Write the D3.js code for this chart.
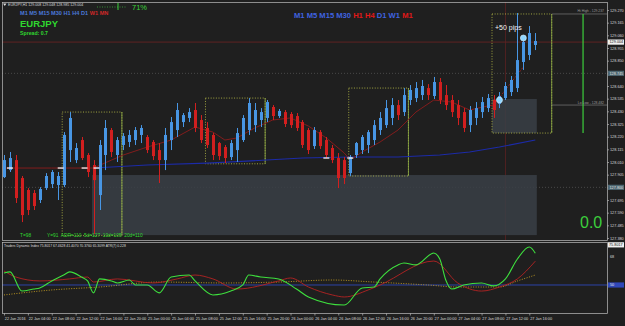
<!DOCTYPE html>
<meta charset="utf-8">
<style>
body { margin: 0; background: #1f1f1f; }
svg { display: block; font-family: "Liberation Sans", Arial, sans-serif; }
.axis text { fill: #d8d8d8; font-size: 3.8px; }
.axis path, .axis line { stroke: #cfcfcf; stroke-width: 0.6; }
</style>
<body>
<script src="https://cdn.jsdelivr.net/npm/d3@7"></script>
<script>

var width = 625,
    height = 326;

// hourly EURJPY bars, 22 Jan 00:00 .. 27 Jan 17:00
var opens = [127.885,127.943,128.026,127.877,127.778,127.753,127.695,127.794,127.827,127.819,
  127.819,128.109,128.026,128.192,128.068,127.985,127.736,128.068,128.275,128.068,
  128.151,128.176,128.192,128.234,128.217,128.176,128.109,128.026,128.192,128.275,
  128.341,128.375,128.441,128.358,128.292,128.234,128.167,128.134,128.051,128.109,
  128.192,128.275,128.316,128.358,128.375,128.466,128.391,128.424,128.408,128.391,
  128.341,128.275,128.142,128.258,128.192,128.126,128.043,128.026,127.918,128.068,
  128.109,128.151,128.192,128.275,128.316,128.375,128.482,128.424,128.524,128.540,
  128.565,128.623,128.557,128.673,128.565,128.524,128.482,128.424,128.316,128.375,
  128.424,128.457,128.524,128.491,128.540,128.590,128.623,128.839,128.897,128.980];
var highs = [128.068,128.093,128.068,127.894,127.794,127.778,127.802,127.918,127.943,127.927,
  128.258,128.424,128.167,128.217,128.084,128.026,128.192,128.358,128.292,128.217,
  128.250,128.275,128.300,128.316,128.234,128.192,128.167,128.292,128.383,128.499,
  128.416,128.457,128.499,128.399,128.341,128.250,128.176,128.151,128.192,128.292,
  128.399,128.540,128.499,128.457,128.524,128.482,128.449,128.441,128.424,128.416,
  128.358,128.292,128.300,128.275,128.217,128.151,128.084,128.051,128.068,128.176,
  128.234,128.275,128.358,128.424,128.524,128.540,128.524,128.623,128.648,128.673,
  128.690,128.656,128.715,128.706,128.648,128.565,128.524,128.457,128.474,128.507,
  128.549,128.574,128.565,128.590,128.673,128.723,129.245,129.054,129.137,129.079];
var lows = [127.877,127.927,127.670,127.512,127.570,127.612,127.670,127.778,127.794,127.695,
  127.802,128.010,128.001,128.026,127.885,127.413,127.612,127.943,128.051,128.010,
  128.109,128.134,128.151,128.167,128.084,128.026,127.836,127.943,128.109,128.217,
  128.300,128.341,128.258,128.167,128.126,128.026,128.026,128.001,128.026,128.010,
  128.176,128.234,128.258,128.300,128.341,128.358,128.375,128.300,128.292,128.267,
  128.126,128.076,128.118,128.118,128.043,128.001,127.794,127.827,127.894,128.043,
  128.076,128.084,128.151,128.234,128.292,128.316,128.358,128.391,128.482,128.507,
  128.524,128.524,128.532,128.491,128.441,128.383,128.316,128.258,128.258,128.316,
  128.375,128.424,128.375,128.457,128.524,128.557,128.590,128.773,128.855,128.938];
var closes = [128.026,128.043,127.711,127.570,127.612,127.645,127.786,127.894,127.927,127.894,
  128.234,128.375,128.126,128.043,127.927,127.860,128.151,128.292,128.093,128.192,
  128.225,128.234,128.275,128.292,128.109,128.059,128.026,128.234,128.341,128.441,
  128.399,128.424,128.292,128.192,128.151,128.068,128.059,128.043,128.167,128.250,
  128.375,128.499,128.441,128.424,128.507,128.391,128.433,128.325,128.316,128.292,
  128.151,128.109,128.275,128.142,128.068,128.026,127.877,127.877,128.051,128.167,
  128.217,128.258,128.316,128.375,128.457,128.482,128.399,128.565,128.607,128.623,
  128.640,128.565,128.673,128.524,128.482,128.424,128.375,128.292,128.441,128.457,
  128.507,128.540,128.441,128.557,128.640,128.690,128.855,129.005,129.079,129.013];

// moving averages: [bar, price]
var fastMA = [[0,127.960],[8,127.960],[15,127.960],[18,128.026],[20,128.068],[24,128.134],[28,128.192],
  [32,128.300],[35,128.258],[37,128.192],[39,128.209],[42,128.292],[45,128.358],[48,128.375],
  [51,128.308],[54,128.209],[57,128.084],[58,128.026],[60,128.093],[63,128.176],[66,128.275],
  [69,128.424],[72,128.524],[75,128.507],[78,128.441],[81,128.474],[82,128.482]];
var trendLine = [[82,128.482],[87,128.798]];
var slowMA = [[15,127.960],[24,127.985],[34,128.001],[44,128.026],[50,128.043],[58,128.051],
  [66,128.051],[73,128.068],[78,128.093],[83,128.134],[89,128.192]];

// Traders Dynamic Index: [bar, value]
var rsiLine = [[0,57.7],[1,58.4],[3,46.1],[5,47.4],[6,48.1],[8,52.6],[10,56.4],[11,58.4],[13,55.1],
  [14,52.6],[15,44.9],[16,53.9],[18,52.6],[19,51.3],[21,53.2],[22,50],[24,50],[26,44.9],[28,55.1],
  [31,56.4],[32,52.6],[35,43.6],[38,46.1],[40,50],[41,56.4],[43,55.1],[46,53.9],[49,47.4],[51,42.3],
  [57,37.1],[60,48.1],[62,48.7],[63,53.9],[66,62.9],[67,64.1],[69,62.9],[72,70.6],[73,66.7],
  [74,53.2],[75,47.4],[77,50],[80,51.3],[82,49.4],[84,53.9],[86,66.7],[88,74.4],[89,70.4]];
var signalLine = [[0,59],[2,55.1],[6,52.6],[11,53.9],[14,55.1],[15,51.9],[19,53.9],[25,51.3],
  [29,53.9],[32,56.4],[35,53.9],[39,47.4],[46,52.6],[48,54.5],[51,48.7],[55,43.6],[57,42.3],
  [61,46.8],[63,50],[72,65.4],[76,51.3],[80,46.1],[83,48.7],[86,53.9],[89,65.3]];
var baseLine = [[0,43.6],[8,46.8],[16,48.7],[26,51.9],[37,51.3],[46,51.9],[55,53.2],[62,51.9],
  [71,50],[76,48.7],[83,48.7],[86,52.6],[89,56.4]];

// session boxes (10 hours each)
var sessionStart = [10, 34, 58, 82];
var sessionHigh = [128.424, 128.540, 128.623, 129.237];
var sessionLow = [127.400, 127.995, 127.894, 128.250];

// grey zones
var zoneStart = [15, 82], zoneEnd = [89, 89];
var zoneHigh = [127.902, 128.532], zoneLow = [127.404, 128.250];

var markers = [[1,127.960],[9.5,127.960],[13.5,127.960],[15.5,127.960],[54,128.043],[58,128.043]];
var entryDots = [[83,128.524],[87,129.038]];

var priceTicks = [129.270,129.165,129.060,128.955,128.850,128.745,128.640,128.535,128.430,128.325,
  128.220,128.115,128.010,127.905,127.800,127.695,127.590,127.485,127.380];
var timeLabels = ["22 Jan 2016","22 Jan 04:00","22 Jan 08:00","22 Jan 12:00","22 Jan 16:00","22 Jan 20:00",
  "25 Jan 00:00","25 Jan 04:00","25 Jan 08:00","25 Jan 12:00","25 Jan 16:00","25 Jan 20:00",
  "26 Jan 00:00","26 Jan 04:00","26 Jan 08:00","26 Jan 12:00","26 Jan 16:00","26 Jan 20:00",
  "27 Jan 00:00","27 Jan 04:00","27 Jan 08:00","27 Jan 12:00","27 Jan 16:00"];

var bidPrice = 129.004, levelA = 128.745, levelB = 127.800;

var plotL = 2, plotR = 607, mainT = 2, mainB = 240, indT = 242, indB = 313;

var x = d3.scaleLinear().domain([0, 89]).range([4, 535.3]);
var y = d3.scaleLinear().domain([127.380, 129.270]).range([238, 10]);
var yi = d3.scaleLinear().domain([32, 80]).range([313, 238.3]);

var bars = opens.map(function(o, i) {
  return {i: i, o: o, h: highs[i], l: lows[i], c: closes[i]};
});

var svg = d3.select("body").append("svg")
    .attr("width", width)
    .attr("height", height);

svg.append("rect").attr("width", width).attr("height", height).attr("fill", "#1f1f1f");

var defs = svg.append("defs");
defs.append("clipPath").attr("id", "clipMain").append("rect")
    .attr("x", plotL).attr("y", mainT).attr("width", plotR - plotL).attr("height", mainB - mainT);
defs.append("clipPath").attr("id", "clipInd").append("rect")
    .attr("x", plotL).attr("y", indT).attr("width", plotR - plotL).attr("height", indB - indT);

var main = svg.append("g").attr("clip-path", "url(#clipMain)");

// reference lines
main.selectAll(".lvl")
    .data([levelA, levelB])
  .enter().append("line")
    .attr("x1", plotL).attr("x2", plotR)
    .attr("y1", function(d) { return y(d); }).attr("y2", function(d) { return y(d); })
    .attr("stroke", "#5a5a5a").attr("stroke-width", 0.7).attr("stroke-dasharray", "1,2");

main.append("line")
    .attr("x1", plotL).attr("x2", plotR)
    .attr("y1", y(bidPrice)).attr("y2", y(bidPrice))
    .attr("stroke", "#6e2424").attr("stroke-width", 0.8);

main.append("line")
    .attr("x1", x(84)).attr("x2", x(84))
    .attr("y1", mainT).attr("y2", mainB)
    .attr("stroke", "#5e2222").attr("stroke-width", 0.8);

// grey zones
main.selectAll(".zone")
    .data(zoneStart)
  .enter().append("rect")
    .attr("x", function(d) { return x(d) - 1.5; })
    .attr("width", function(d, i) { return x(zoneEnd[i]) + 1.5 - (x(d) - 1.5); })
    .attr("y", function(d, i) { return y(zoneHigh[i]); })
    .attr("height", function(d, i) { return y(zoneLow[i]) - y(zoneHigh[i]); })
    .attr("fill", "#3a4047")
    .attr("fill-opacity", 0.85);

// session boxes
main.selectAll(".sess")
    .data(sessionStart)
  .enter().append("rect")
    .attr("x", function(d) { return x(d) - 1.5; })
    .attr("width", function(d) { return x(d + 10) - x(d); })
    .attr("y", function(d, i) { return y(sessionHigh[i]); })
    .attr("height", function(d, i) { return y(sessionLow[i]) - y(sessionHigh[i]); })
    .attr("fill", "none")
    .attr("stroke", "#c2c64a")
    .attr("stroke-width", 0.8)
    .attr("stroke-dasharray", "1,1.6");

main.selectAll(".sessEdge")
    .data(sessionStart)
  .enter().append("line")
    .attr("x1", function(d) { return x(d + 10) - 1.5; })
    .attr("x2", function(d) { return x(d + 10) - 1.5; })
    .attr("y1", function(d, i) { return y(sessionHigh[i]); })
    .attr("y2", function(d, i) { return y(sessionLow[i]); })
    .attr("stroke", "#8fae46")
    .attr("stroke-width", 0.8);

// hi / lo of last session
var last = sessionStart.length - 1;
main.selectAll(".hilo")
    .data([sessionHigh[last], 128.482])
  .enter().append("line")
    .attr("x1", x(sessionStart[last] + 10) - 1.5).attr("x2", plotR)
    .attr("y1", function(d) { return y(d); }).attr("y2", function(d) { return y(d); })
    .attr("stroke", "#8a8a8a").attr("stroke-width", 0.6);

svg.selectAll(".hiloText")
    .data([["Hi High - 129.237", sessionHigh[last]], ["Lo Low - 128.482", 128.482]])
  .enter().append("text")
    .attr("x", 604).attr("y", function(d) { return y(d[1]) - 1.5; })
    .attr("text-anchor", "end")
    .attr("font-size", 3.4).attr("fill", "#9a9a9a")
    .text(function(d) { return d[0]; });

main.append("line")
    .attr("x1", x(97)).attr("x2", x(97))
    .attr("y1", y(sessionHigh[last])).attr("y2", y(sessionLow[last]))
    .attr("stroke", "#3ccf3c").attr("stroke-width", 1.2);

// moving averages
var line = d3.line()
    .x(function(d) { return x(d[0]); })
    .y(function(d) { return y(d[1]); });

main.append("path").datum(slowMA)
    .attr("d", line).attr("fill", "none")
    .attr("stroke", "#1c2ba8").attr("stroke-width", 1.1);

main.append("path").datum(fastMA)
    .attr("d", line).attr("fill", "none")
    .attr("stroke", "#8c1c1c").attr("stroke-width", 0.9);

main.append("path").datum(trendLine)
    .attr("d", line).attr("fill", "none")
    .attr("stroke", "#b02020").attr("stroke-width", 0.8).attr("stroke-dasharray", "2,1.5");

// candles
var bull = "#4896e4", bear = "#d21f1f";
var candle = main.selectAll(".candle")
    .data(bars)
  .enter().append("g")
    .attr("class", "candle");

candle.append("line")
    .attr("x1", function(d) { return Math.round(x(d.i)) + 0.5; })
    .attr("x2", function(d) { return Math.round(x(d.i)) + 0.5; })
    .attr("y1", function(d) { return y(d.h); })
    .attr("y2", function(d) { return y(d.l); })
    .attr("stroke", function(d) { return d.c >= d.o ? bull : bear; })
    .attr("stroke-width", 1);

candle.append("rect")
    .attr("x", function(d) { return Math.round(x(d.i)) - 1; })
    .attr("width", 3)
    .attr("y", function(d) { return y(Math.max(d.o, d.c)); })
    .attr("height", function(d) { return Math.max(1, Math.abs(y(d.o) - y(d.c))); })
    .attr("fill", function(d) { return d.c >= d.o ? bull : bear; });

main.selectAll(".marker")
    .data(markers)
  .enter().append("line")
    .attr("x1", function(d) { return x(d[0]) - 3; })
    .attr("x2", function(d) { return x(d[0]) + 3; })
    .attr("y1", function(d) { return y(d[1]); })
    .attr("y2", function(d) { return y(d[1]); })
    .attr("stroke", "#f4f4f4").attr("stroke-width", 1.3);

main.selectAll(".dot")
    .data(entryDots)
  .enter().append("circle")
    .attr("cx", function(d) { return x(d[0]); })
    .attr("cy", function(d) { return y(d[1]); })
    .attr("r", 3)
    .attr("fill", "#8fd6ff")
    .attr("stroke", "#d8f2ff").attr("stroke-width", 0.6);

main.append("text")
    .attr("x", 495).attr("y", 30)
    .attr("font-size", 7).attr("fill", "#f2f2f2")
    .text("+50 pips");

// indicator panel
var ind = svg.append("g").attr("clip-path", "url(#clipInd)");

ind.append("line")
    .attr("x1", plotL).attr("x2", plotR)
    .attr("y1", yi(50)).attr("y2", yi(50))
    .attr("stroke", "#2f47b8").attr("stroke-width", 0.9);

var iline = d3.line()
    .x(function(d) { return x(d[0]); })
    .y(function(d) { return yi(d[1]); })
    .curve(d3.curveMonotoneX);

ind.append("path").datum(baseLine)
    .attr("d", iline).attr("fill", "none")
    .attr("stroke", "#c8a020").attr("stroke-width", 0.9).attr("stroke-dasharray", "1,1.5");

ind.append("path").datum(signalLine)
    .attr("d", iline).attr("fill", "none")
    .attr("stroke", "#b42222").attr("stroke-width", 0.9);

ind.append("path").datum(rsiLine)
    .attr("d", iline).attr("fill", "none")
    .attr("stroke", "#3ee03e").attr("stroke-width", 1.1);

svg.append("text")
    .attr("x", 4).attr("y", 247)
    .attr("font-size", 3.4).attr("fill", "#dcdcdc")
    .text("Traders Dynamic Index 75.8017 67.4628 41.4070 70.3760 65.3099  ATR(7) 0.228");

// frame
svg.append("g")
    .attr("fill", "none").attr("stroke", "#bdbdbd").attr("stroke-width", 0.7)
  .selectAll("rect")
    .data([[plotL, mainT, plotR, mainB], [plotL, indT, plotR, indB]])
  .enter().append("rect")
    .attr("x", function(d) { return d[0] + 0.5; })
    .attr("y", function(d) { return d[1] + 0.5; })
    .attr("width", function(d) { return d[2] - d[0]; })
    .attr("height", function(d) { return d[3] - d[1]; });

// price axis
svg.append("g")
    .attr("class", "axis")
    .attr("transform", "translate(" + (plotR + 0.5) + ",0)")
    .call(d3.axisRight(y).tickValues(priceTicks).tickSize(1.5).tickPadding(1).tickFormat(d3.format(".3f")))
    .call(function(g) { g.select(".domain").remove(); });

var tags = [[bidPrice, "#f0f0f0", "#111"], [levelA, "#4c6670", "#e0e0e0"], [levelB, "#4c6670", "#e0e0e0"]];
var tag = svg.selectAll(".tag").data(tags).enter().append("g");
tag.append("rect")
    .attr("x", plotR + 1).attr("y", function(d) { return y(d[0]) - 2.6; })
    .attr("width", 16).attr("height", 5.2)
    .attr("fill", function(d) { return d[1]; });
tag.append("text")
    .attr("x", plotR + 2.5).attr("y", function(d) { return y(d[0]) + 1.4; })
    .attr("font-size", 3.8).attr("fill", function(d) { return d[2]; })
    .text(function(d) { return d3.format(".3f")(d[0]); });

// indicator axis
svg.append("text")
    .attr("x", plotR + 3).attr("y", yi(68) + 1.4)
    .attr("font-size", 3.8).attr("fill", "#d8d8d8").text("68");
svg.append("rect")
    .attr("x", plotR + 1).attr("y", yi(75.8017) - 2.6).attr("width", 16).attr("height", 5.2).attr("fill", "#f0f0f0");
svg.append("text")
    .attr("x", plotR + 2).attr("y", yi(75.8017) + 1.4)
    .attr("font-size", 3.8).attr("fill", "#111").text("75.8017");
svg.append("rect")
    .attr("x", plotR + 1).attr("y", yi(50) - 2.6).attr("width", 16).attr("height", 5.2).attr("fill", "#2f47b8");
svg.append("text")
    .attr("x", plotR + 3).attr("y", yi(50) + 1.4)
    .attr("font-size", 3.8).attr("fill", "#e8e8e8").text("50");

// time axis
svg.append("g")
    .attr("class", "axis")
    .attr("transform", "translate(0," + (indB + 0.5) + ")")
    .call(d3.axisBottom(x).tickValues(d3.range(0, 89, 4)).tickSize(2).tickFormat(function(d, i) { return timeLabels[i]; }))
    .call(function(g) {
      g.select(".domain").remove();
      g.selectAll("text").attr("text-anchor", "start").attr("dx", "0.3").attr("dy", "0.4em");
    });

// chart header and overlays
svg.append("path").attr("d", "M3,3.5L6.5,3.5L4.75,6Z").attr("fill", "#dcdcdc");
svg.append("text")
    .attr("x", 8).attr("y", 6).attr("font-size", 3.6).attr("fill", "#dcdcdc")
    .text("EURJPY,H1  129.008 129.048 128.985 129.004");

var tf = ["M1","M5","M15","M30","H1","H4","D1","W1","MN"];
var tfSmall = svg.append("text").attr("x", 20).attr("y", 15).attr("font-size", 5.6).attr("font-weight", "bold")
    .attr("xml:space", "preserve");
tf.forEach(function(t, i) {
  tfSmall.append("tspan").attr("fill", i < 7 ? "#4a78d8" : "#d02828").text(t + " ");
});

svg.append("line").attr("x1", 97).attr("x2", 127).attr("y1", 7).attr("y2", 7)
    .attr("stroke", "#3ca83c").attr("stroke-width", 0.8).attr("stroke-dasharray", "1,1.5");
svg.append("line").attr("x1", 118).attr("x2", 118).attr("y1", 3).attr("y2", 10)
    .attr("stroke", "#3ccf3c").attr("stroke-width", 1);
svg.append("text").attr("x", 132).attr("y", 10).attr("font-size", 7.5).attr("fill", "#3ccf3c").text("71%");

svg.append("text").attr("x", 20).attr("y", 27).attr("font-size", 9.5).attr("font-weight", "bold")
    .attr("fill", "#2fd82f").text("EURJPY");
svg.append("text").attr("x", 20).attr("y", 35).attr("font-size", 5.2).attr("font-weight", "bold")
    .attr("fill", "#2fd82f").text("Spread: 0.7");

var tfBig = svg.append("text").attr("x", 294).attr("y", 18).attr("font-size", 7.6).attr("font-weight", "bold")
    .attr("xml:space", "preserve");
["M1","M5","M15","M30","H1","H4","D1","W1","M1"].forEach(function(t, i) {
  tfBig.append("tspan").attr("fill", (i === 4 || i === 5 || i === 8) ? "#e01818" : "#3f63e0").text(t + " ");
});

svg.append("text").attr("x", 20).attr("y", 237).attr("font-size", 4.8).attr("fill", "#2fd82f").text("T=98");
svg.append("text").attr("x", 47).attr("y", 237).attr("font-size", 4.8).attr("fill", "#2fd82f")
    .attr("xml:space", "preserve")
    .text("Y=91  ADR=110  5d=127  10d=105  20d=110");

svg.append("text").attr("x", 580).attr("y", 228).attr("font-size", 16).attr("fill", "#3ccf3c").text("0.0");

</script>
